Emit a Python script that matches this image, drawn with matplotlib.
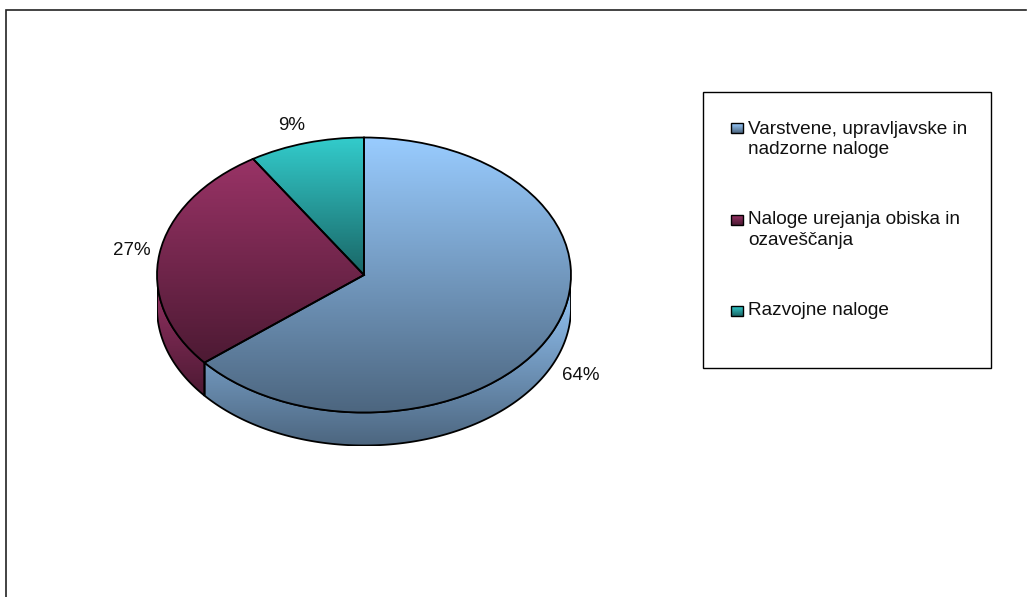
import numpy as np
import matplotlib
matplotlib.use('Agg')
import matplotlib.pyplot as plt
from matplotlib.colors import LinearSegmentedColormap
from matplotlib.patches import Polygon, Rectangle

plt.rcParams['font.family'] = ['Liberation Sans', 'DejaVu Sans']

labels = ['Varstvene, upravljavske in\nnadzorne naloge',
          'Naloge urejanja obiska in\nozaveščanja',
          'Razvojne naloge']
values = [64, 27, 9]
pct_labels = ['64%', '27%', '9%']
colors = ['#99CCFF', '#993366', '#33CCCC']

W, H = 1029, 597
fig = plt.figure(figsize=(W / 100, H / 100), dpi=100)

# background axes in pixel coordinates, y going down
bg = fig.add_axes([0, 0, 1, 1])
bg.set_xlim(0, W)
bg.set_ylim(H, 0)
bg.axis('off')


def ramp(c):
    return LinearSegmentedColormap.from_list('r', [c, tuple(0.5 * v for v in matplotlib.colors.to_rgb(c))])


def shade(ax, patch, c, x0, x1, y0, y1, z):
    # vertical gradient clipped to a patch, y0 is the light (top) end
    grad = np.linspace(0, 1, 256).reshape(-1, 1)
    im = ax.imshow(grad, cmap=ramp(c), extent=(x0, x1, y1, y0), origin='upper',
                   aspect='auto', zorder=z, interpolation='bilinear')
    im.set_clip_path(patch)


# frame, only top and left are visible in the picture
bg.plot([6, 6, 1026], [H, 10, 10], color='#222222', lw=1.2, solid_joinstyle='miter')

# pie: unit circle squashed to the ellipse through the axes box
cx, cy, rx, ry, depth = 364, 275, 207, 137.5, 33
ax = fig.add_axes([(cx - rx) / W, 1 - (cy + ry + depth) / H, 2 * rx / W, (2 * ry + depth) / H])
ax.patch.set_alpha(0)
d = depth / ry
wedges, _ = ax.pie(values, colors=colors, startangle=90, counterclock=False, radius=1,
                   frame=True, wedgeprops=dict(edgecolor='black', linewidth=1.3))
ax.set_aspect('auto')
ax.axis('off')

for w, c in zip(wedges, colors):
    t1, t2 = w.theta1 % 360, w.theta2 % 360
    if t2 <= t1:
        t2 += 360
    # side wall: the part of the rim facing the viewer
    a0, a1 = max(t1, 180), min(t2, 360)
    if a1 > a0:
        t = np.radians(np.linspace(a0, a1, 200))
        xs, ys = np.cos(t), np.sin(t)
        pts = np.r_[np.c_[xs, ys], np.c_[xs, ys - d][::-1]]
        wall = Polygon(pts, closed=True, facecolor='none', edgecolor='black', lw=1.3, zorder=3)
        ax.add_patch(wall)
        shade(ax, wall, c, xs.min(), xs.max(), 0, ys.min() - d, 2)

    # top face gradient spans the slice's own height
    t = np.radians(np.linspace(t1, t2, 200))
    ytop = max(np.sin(t).max(), 0)
    ybot = min(np.sin(t).min(), 0)
    shade(ax, w, c, -1, 1, ytop, ybot, 4)
    w.set_zorder(5)
    w.set_facecolor('none')

ax.set_xlim(-1, 1)
ax.set_ylim(-1 - d, 1)

pct_pos = [(581, 375.5), (132, 250.5), (292, 125.5)]
for s, (x, y) in zip(pct_labels, pct_pos):
    bg.text(x, y, s, fontsize=13.5, ha='center', va='center', color='#111111')

# legend
bg.add_patch(Rectangle((703, 92), 288, 276, facecolor='white', edgecolor='black', lw=1))
swatch_y = [128, 220, 311]
text_y = [139.5, 230, 310.5]
for lab, c, sy, ty in zip(labels, colors, swatch_y, text_y):
    bg.imshow(np.linspace(0, 1, 32).reshape(-1, 1), cmap=ramp(c), extent=(731, 743, sy + 5, sy - 5),
              aspect='auto', zorder=3)
    bg.add_patch(Rectangle((731, sy - 5), 12, 10, facecolor='none', edgecolor='black', lw=1, zorder=4))
    bg.text(748, ty, lab, fontsize=13.7, va='center', ha='left', linespacing=1.27, color='#111111')
bg.set_xlim(0, W)
bg.set_ylim(H, 0)

fig.savefig('out.png', dpi=100)
